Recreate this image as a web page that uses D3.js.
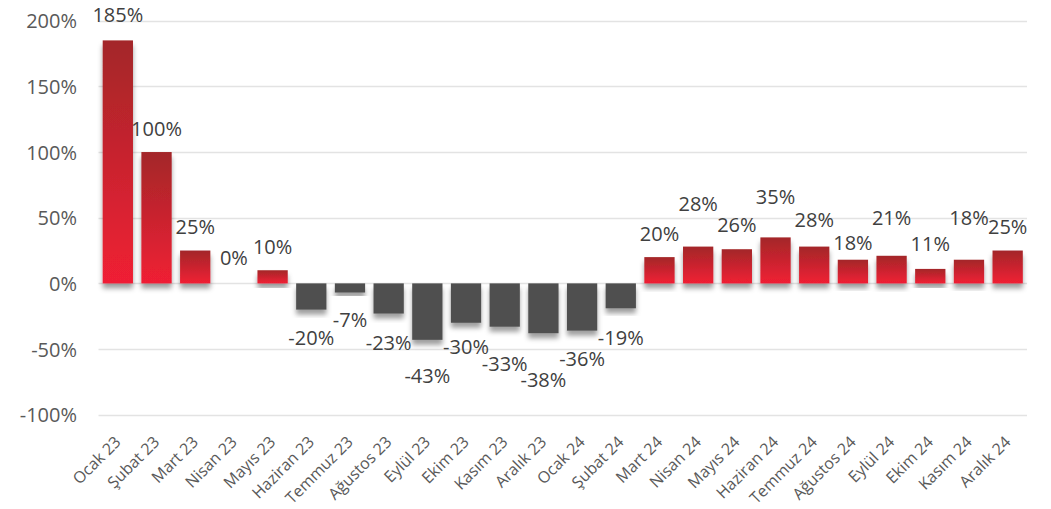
<!DOCTYPE html>
<html>
<head>
<meta charset="utf-8">
<script src="https://cdn.jsdelivr.net/npm/d3@7"></script>
<style>
  html, body { margin: 0; padding: 0; background: #ffffff; }
  svg { display: block; font-family: "Open Sans", "Noto Sans", sans-serif; }
</style>
</head>
<body>
<svg id="chart" width="1051" height="509"></svg>
<script>
// ---- data ----
const categories = ["Ocak 23","Şubat 23","Mart 23","Nisan 23","Mayıs 23","Haziran 23","Temmuz 23","Ağustos 23","Eylül 23","Ekim 23","Kasım 23","Aralık 23","Ocak 24","Şubat 24","Mart 24","Nisan 24","Mayıs 24","Haziran 24","Temmuz 24","Ağustos 24","Eylül 24","Ekim 24","Kasım 24","Aralık 24"];
const values = [185, 100, 25, 0, 10, -20, -7, -23, -43, -30, -33, -38, -36, -19, 20, 28, 26, 35, 28, 18, 21, 11, 18, 25];
const yTicks = [-100, -50, 0, 50, 100, 150, 200];

// ---- layout (label distance from bar end, px) ----
const labelOffsetPx = [26, 23.5, 24, 26, 23.5, 28.5, 27.5, 29.5, 36, 24, 37, 47, 28.5, 29, 23.5, 43, 24, 40.5, 26.5, 16.5, 37.5, 25.5, 41.5, 24];

const svg = d3.select("#chart");
const x = d3.scaleBand().domain(categories).range([98.5, 1027]).paddingInner(0.217).paddingOuter(0.1085);
const y = d3.scaleLinear().domain([-100, 200]).range([414.7, 20.7]);

const defs = svg.append("defs");
const grad = defs.append("linearGradient").attr("id", "redGrad").attr("x1", 0).attr("y1", 0).attr("x2", 0).attr("y2", 1);
grad.append("stop").attr("offset", "0%").attr("stop-color", "#a32729");
grad.append("stop").attr("offset", "100%").attr("stop-color", "#f01f34");
const f = defs.append("filter").attr("id", "shadow").attr("x", "-30%").attr("y", "-30%").attr("width", "160%").attr("height", "160%");
f.append("feDropShadow").attr("dx", 0).attr("dy", 5).attr("stdDeviation", 2.6).attr("flood-color", "#000").attr("flood-opacity", 0.38);

// gridlines
svg.append("g").selectAll("line").data(yTicks).join("line")
  .attr("x1", 98.5).attr("x2", 1027)
  .attr("y1", d => Math.round(y(d)) + 0.5).attr("y2", d => Math.round(y(d)) + 0.5)
  .attr("stroke", "#e3e3e3").attr("stroke-width", 1.6);

// y axis labels
const yAxis = d3.axisLeft(y).tickValues(yTicks).tickFormat(d => d + "%").tickSize(0).tickPadding(0);
const gy = svg.append("g").attr("transform", "translate(77,0)").call(yAxis);
gy.select(".domain").remove();
gy.selectAll("text").attr("font-size", 20).attr("fill", "#595959").attr("font-family", "Open Sans, sans-serif").attr("dy", "0.35em");

// bars
svg.append("g").selectAll("rect").data(values).join("rect")
  .attr("x", (d, i) => x(categories[i]))
  .attr("width", x.bandwidth())
  .attr("y", d => y(Math.max(0, d)))
  .attr("height", d => Math.abs(y(d) - y(0)))
  .attr("fill", d => d >= 0 ? "url(#redGrad)" : "#505050")
  .attr("filter", "url(#shadow)");

// data labels
svg.append("g").selectAll("text").data(values).join("text")
  .attr("x", (d, i) => x(categories[i]) + x.bandwidth() / 2)
  .attr("y", (d, i) => d >= 0 ? y(d) - labelOffsetPx[i] : y(d) + labelOffsetPx[i])
  .attr("dy", "0.36em")
  .attr("text-anchor", "middle")
  .attr("font-size", 20)
  .attr("fill", "#404040")
  .text(d => d + "%");

// x axis labels
const xAxis = d3.axisBottom(x).tickSize(0).tickPadding(0);
const gx = svg.append("g").attr("transform", "translate(0,0)").call(xAxis);
gx.select(".domain").remove();
gx.selectAll(".tick text")
  .attr("font-size", 16).attr("fill", "#595959").attr("font-family", "Open Sans, sans-serif")
  .attr("text-anchor", "end").attr("dy", 0).attr("y", 0)
  .attr("transform", "translate(4,443) rotate(-45)");
</script>
</body>
</html>
